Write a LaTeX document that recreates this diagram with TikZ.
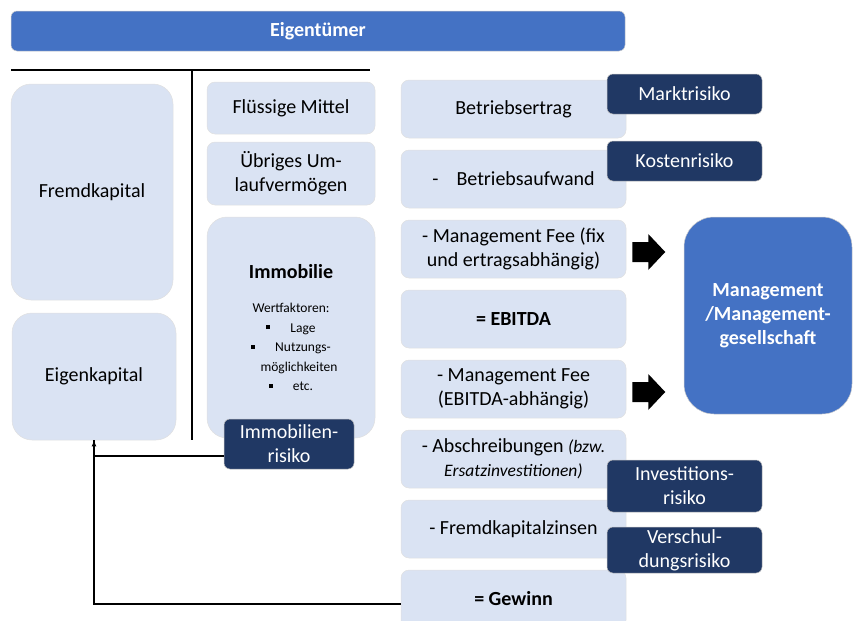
\documentclass[tikz,border=0pt]{standalone}
\usepackage{fontspec}
\setmainfont{Carlito}
\usepackage{xcolor}
\usetikzlibrary{arrows.meta,positioning}

\definecolor{ownerblue}{HTML}{4472C4}
\definecolor{riskblue}{HTML}{203864}
\definecolor{lightbox}{HTML}{DAE3F3}
\newcommand{\sqbullet}{\rule[3pt]{4pt}{4pt}}

\begin{document}
\begin{tikzpicture}[
  x=1pt, y=-1pt,
  box/.style={rectangle, rounded corners=8pt, draw=black!12, line width=0.5pt, fill=lightbox, align=center, inner sep=0pt, font=\fontsize{20}{24}\selectfont},
  bigbox/.style={box, rounded corners=20pt},
  riskbox/.style={rectangle, rounded corners=6pt, draw=black!25, line width=0.5pt, fill=riskblue, text=white, align=center, inner sep=0pt, minimum width=155pt, font=\fontsize{20}{24}\selectfont},
  bluebox/.style={rectangle, draw=black!20, line width=0.5pt, fill=ownerblue, text=white, align=center, inner sep=0pt, font=\fontsize{20}{24}\selectfont\bfseries},
  pnlbox/.style={box, minimum width=225pt, minimum height=58pt},
  arr/.style={-{Latex[length=6pt,width=5pt]}, line width=1.2pt}
]
\clip (0,0) rectangle (854,621);

% owner bar and T-account
\node[bluebox, rounded corners=6pt, minimum width=614pt, minimum height=40pt] (owner) at (318,31) {Eigentümer};
\draw[line width=1.5pt] (11,70) -- (370,70);
\draw[line width=1.5pt] (192,70) -- (192,440);

% liabilities
\node[bigbox, minimum width=162pt, minimum height=216pt] (fk) at (92,192) {Fremdkapital};
\node[bigbox, minimum width=164pt, minimum height=127pt] (ek) at (94,376.5) {Eigenkapital};

% assets
\node[box, minimum width=168pt, minimum height=52pt] (cash) at (291,108) {Flüssige Mittel};
\node[box, minimum width=168pt, minimum height=63pt] (uv) at (291,173.5) {Übriges Um-\\laufvermögen};
\node[bigbox, minimum width=168pt, minimum height=221pt, font=\fontsize{13.5}{19.5}\selectfont] (immo) at (291,327.5)
  {{\fontsize{20}{24}\selectfont\bfseries Immobilie}\\[15pt]
   Wertfaktoren:\\
   \sqbullet\hspace{20pt}Lage\\
   \sqbullet\hspace{20pt}Nutzungs-\\
   \hspace*{16pt}möglichkeiten\\
   \sqbullet\hspace{20pt}etc.};
\node[riskbox, minimum width=130pt, minimum height=50pt] (immorisk) at (289,444) {Immobilien-\\risiko};

% profit and loss column
\node[pnlbox] (ertrag) at (513.5,109) {Betriebsertrag};
\node[pnlbox, below=11.5pt of ertrag] (aufwand) {-\hspace{18pt}Betriebsaufwand};
\node[pnlbox, below=11.5pt of aufwand] (fee1) {- Management Fee (fix\\und ertragsabhängig)};
\node[pnlbox, below=11.5pt of fee1] (ebitda) {\textbf{= EBITDA}};
\node[pnlbox, below=11.5pt of ebitda] (fee2) {- Management Fee\\(EBITDA-abhängig)};
\node[pnlbox, below=11.5pt of fee2] (afa) {- Abschreibungen {\fontsize{17.5}{24}\selectfont\itshape(bzw.}\\{\fontsize{17.5}{24}\selectfont\itshape Ersatzinvestitionen)}};
\node[pnlbox, below=11.5pt of afa] (zins) {- Fremdkapitalzinsen};
\node[pnlbox, below=11.5pt of zins] (gewinn) {\textbf{= Gewinn}};

% risks
\node[riskbox, minimum height=40pt] (markt) at (684.5,94) {Marktrisiko};
\node[riskbox, minimum height=40pt] (kosten) at (684.5,161) {Kostenrisiko};
\node[riskbox, minimum height=52pt] (invest) at (684.5,486) {Investitions-\\risiko};
\node[riskbox, minimum height=46pt] (schuld) at (684.5,550) {Verschul-\\dungsrisiko};

% management
\node[bluebox, rounded corners=30pt, minimum width=168pt, minimum height=197pt] (mgmt) at (768,315.5) {Management\\/Management-\\gesellschaft};

% block arrows to management
\foreach \f in {fee1,fee2}
  \fill ([shift={(6,3)}]\f.east) ++(0,-10) -- ++(16,0) -- ++(0,-8) -- ++(17,18) -- ++(-17,18) -- ++(0,-8) -- ++(-16,0) -- cycle;

% profit flows back to equity
\draw[arr] ([yshift=-5pt]gewinn.west) -| (ek.south);
\draw[line width=1.2pt] ([yshift=-12pt]immorisk.west) -| (ek.south);
\end{tikzpicture}
\end{document}
